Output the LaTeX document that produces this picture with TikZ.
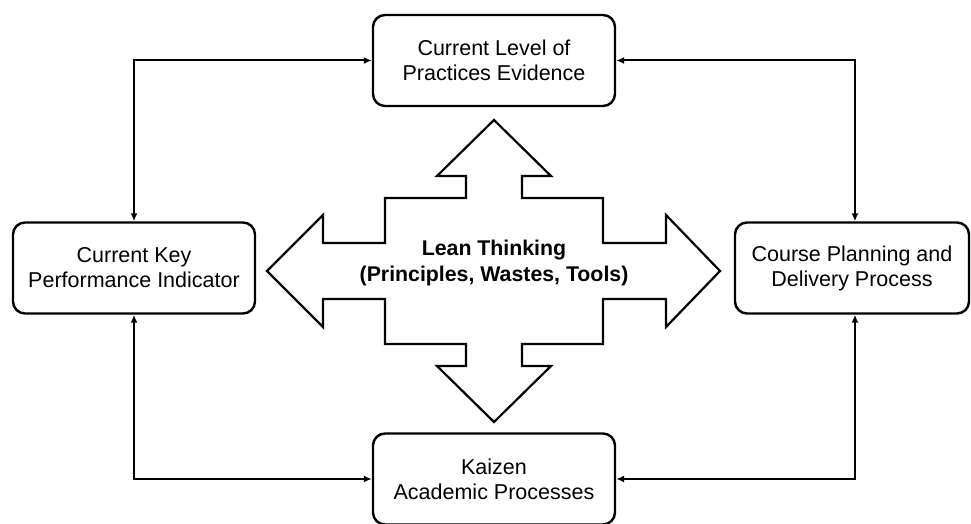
\documentclass[tikz,border=0pt]{standalone}
\usepackage{fontspec}
\setmainfont{Liberation Sans}
\usetikzlibrary{arrows.meta}
\begin{document}
\begin{tikzpicture}[x=1pt,y=-1pt,
  line width=2.2pt,
  box/.style={draw, line width=2.4pt, rounded corners=12pt, minimum width=242pt, minimum height=91pt,
    align=center, inner sep=0pt, font=\fontsize{21.5}{25}\selectfont},
  link/.style={{Latex[length=8pt,width=7pt]}-{Latex[length=8pt,width=7pt]}, line width=2pt},
  cross/.style={draw, line width=2.2pt, line join=miter, fill=white}]
\useasboundingbox (0,0) rectangle (971,524);

% four surrounding process boxes
\node[box] (top)   at (494,60.5) {Current Level of\\Practices Evidence};
\node[box] (left)  at (134,268)  {Current Key\\Performance Indicator};
\node[box, minimum width=234pt] (right) at (852,268) {Course Planning and\\Delivery Process};
\node[box] (bot)   at (494,479)  {Kaizen\\Academic Processes};

% central four-way arrow
\draw[cross] (494,120) -- (551,176) -- (522,176) -- (522,198) -- (603,198) -- (603,243)
  -- (666,243) -- (666,215) -- (720,271) -- (666,327) -- (666,299) -- (603,299)
  -- (603,344) -- (522,344) -- (522,366) -- (551,366) -- (494,422) -- (437,366)
  -- (466,366) -- (466,344) -- (385,344) -- (385,299) -- (323,299) -- (323,327)
  -- (267,271) -- (323,215) -- (323,243) -- (385,243) -- (385,198) -- (466,198)
  -- (466,176) -- (437,176) -- cycle;
\node[align=center, font=\bfseries\fontsize{21.3}{26}\selectfont] (lean) at (494,263)
  {Lean Thinking\\(Principles, Wastes, Tools)};

% loop connectors between the boxes
\draw[link] (top.west) -| (left.north);
\draw[link] (top.east) -| ([xshift=3pt]right.north);
\draw[link] (left.south) |- (bot.west);
\draw[link] (bot.east) -| ([xshift=3pt]right.south);
\end{tikzpicture}
\end{document}
